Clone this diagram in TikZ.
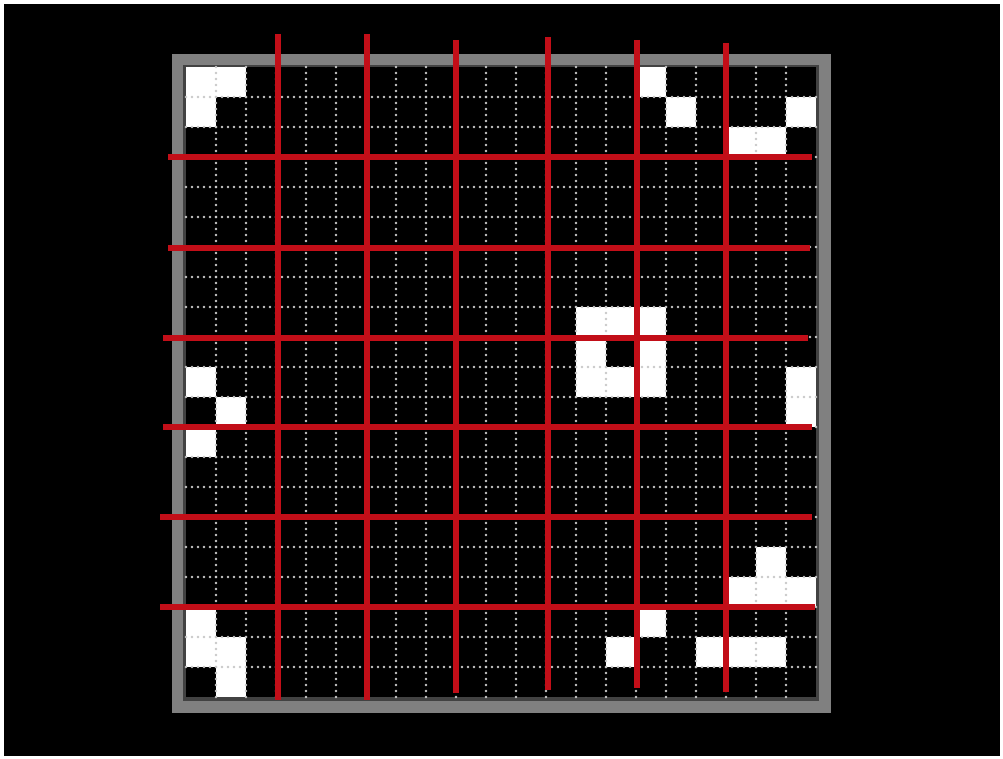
\documentclass[tikz,border=0pt]{standalone}
\usepackage{tikz}
\definecolor{rahmen}{RGB}{128,128,128}
\definecolor{rahmeninnen}{RGB}{66,66,66}
\definecolor{punkte}{RGB}{200,200,200}
\definecolor{schnitt}{RGB}{194,14,24}
\tikzset{punktlinie/.style={punkte, line width=2.6, line cap=round, dash pattern=on 0pt off 6pt}}
\tikzset{schnittlinie/.style={schnitt, line width=6}}

\begin{document}
\begin{tikzpicture}[x=1pt, y=-1pt]

	\fill[white] (0,0) rectangle (1003,759);
	\fill[black] (4,4) rectangle (1000,756);

	% Rahmen
	\fill[rahmen] (172,54) rectangle (831,713);
	\fill[rahmeninnen] (183,65) rectangle (819,701);
	\fill[black] (186,67) rectangle (816,697);

	% lebende Zellen
	\foreach \c/\r in {0/0,1/0,0/1,15/0,16/1,20/1,18/2,19/2,
		13/8,14/8,15/8,13/9,15/9,13/10,14/10,15/10,20/10,20/11,
		0/10,1/11,0/12,0/18,0/19,1/19,1/20,
		19/16,18/17,19/17,20/17,15/18,14/19,17/19,18/19,19/19}
		\fill[white] ({186+30*\c},{67+30*\r}) rectangle +(30,30);

	% Gitter
	\foreach \i in {1,...,20} {
		\draw[punktlinie] ({186+30*\i},67) -- ({186+30*\i},697);
		\draw[punktlinie] (186,{67+30*\i}) -- (816,{67+30*\i});
	}

	% rote Linien
	\foreach \x/\a/\b in {278/34/700,367/34/700,456/40/693,548/37/690,637/40/688,726/43/692}
		\draw[schnittlinie] (\x,\a) -- (\x,\b);
	\foreach \y/\a/\b in {157/168/812,248/168/810,338/163/808,427/163/812,517/160/812,607/160/815}
		\draw[schnittlinie] (\a,\y) -- (\b,\y);
\end{tikzpicture}
\end{document}
